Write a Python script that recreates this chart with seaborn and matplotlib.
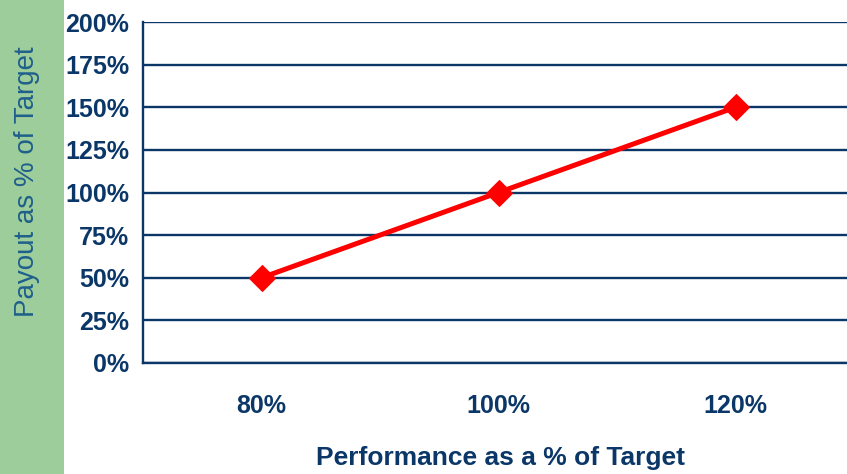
import matplotlib
matplotlib.use("Agg")
import matplotlib.pyplot as plt
import seaborn as sns
import pandas as pd
from matplotlib.patches import Rectangle
from matplotlib.ticker import FixedLocator

performance = ["80%", "100%", "120%"]
payout = [50, 100, 150]
y_ticks = [0, 25, 50, 75, 100, 125, 150, 175, 200]

NAVY = "#0b3768"
df = pd.DataFrame({"Performance": performance, "Payout": payout})

sns.set_style("white")
plt.rcParams["font.family"] = ["Liberation Sans", "DejaVu Sans"]

fig = plt.figure(figsize=(8.47, 4.74), dpi=100)
fig.patches.append(Rectangle((0, 0), 64 / 847, 1, transform=fig.transFigure,
                             facecolor="#9dcd9a", edgecolor="none", zorder=0))

ax = fig.add_axes([143 / 847, 111 / 474, 711 / 847, 341 / 474])
ax.set_facecolor("none")

sns.lineplot(data=df, x="Performance", y="Payout", ax=ax, color="#ff0000",
             linewidth=3.6, marker="D", markersize=13, markeredgecolor="#ff0000",
             sort=False, zorder=5)

ax.set_xlim(-0.5, 2.5)
ax.set_ylim(0, 200)
ax.set_yticks(y_ticks)
ax.set_yticklabels([f"{v}%" for v in y_ticks])
ax.yaxis.grid(True, color=NAVY, linewidth=1.7)
ax.set_axisbelow(True)

for s in ["top", "right"]:
    ax.spines[s].set_visible(False)
for s in ["left", "bottom"]:
    ax.spines[s].set_color(NAVY)
    ax.spines[s].set_linewidth(1.7)

ax.tick_params(axis="y", which="major", length=5, width=1.3, color=NAVY,
               direction="out", labelsize=18, labelcolor=NAVY, pad=5)
ax.tick_params(axis="x", which="major", length=0, labelsize=18,
               labelcolor=NAVY, pad=22)
ax.xaxis.set_minor_locator(FixedLocator([-0.5, 0.5, 1.5, 2.5]))
ax.tick_params(axis="x", which="minor", length=6, width=1.3, color=NAVY,
               direction="out")
for lab in ax.get_xticklabels() + ax.get_yticklabels():
    lab.set_fontweight("bold")

ax.set_xlabel("")
ax.set_ylabel("")
fig.text(500 / 847, 1 - 458 / 474, "Performance as a % of Target", ha="center",
         va="center", fontsize=19, fontweight="bold", color=NAVY)
fig.text(27 / 847, 1 - 182 / 474, "Payout as % of Target", ha="center",
         va="center", rotation=90, fontsize=20, color="#1f5f8b")

fig.savefig("out.png", dpi=100)
